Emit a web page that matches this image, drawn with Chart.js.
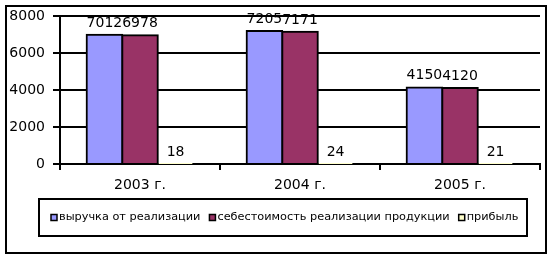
<!DOCTYPE html>
<html><head><meta charset="utf-8">
<script src="https://cdn.jsdelivr.net/npm/chart.js@4"></script>
<style>html,body{margin:0;padding:0;background:#fff}#wrap{width:552px;height:258px;position:relative}canvas{display:block}</style>
</head><body><div id="wrap"><canvas id="c" width="552" height="258"></canvas></div>
<script>
const categories = ['2003 г.', '2004 г.', '2005 г.'];
const revenue = [7012, 7205, 4150];
const cost = [6978, 7171, 4120];
const profit = [18, 24, 21];
const seriesNames = ['выручка от реализации', 'себестоимость реализации продукции', 'прибыль'];
const seriesColors = ['#9999FF', '#993366', '#FFFFCC'];
const yMin = 0, yMax = 8000, yStep = 2000;

const FONT = 'DejaVu Sans';

const labelsPlugin = {
  id: 'barLabels',
  afterDatasetsDraw(chart) {
    const ctx = chart.ctx;
    ctx.save();
    ctx.font = '14px "' + FONT + '"';
    ctx.fillStyle = '#000';
    ctx.textAlign = 'center';
    ctx.textBaseline = 'alphabetic';
    chart.data.datasets.forEach((ds, i) => {
      const meta = chart.getDatasetMeta(i);
      meta.data.forEach((bar, j) => {
        ctx.fillText(String(ds.data[j]), bar.x, bar.y - 8);
      });
    });
    ctx.restore();
  }
};

const framePlugin = {
  id: 'frameLegend',
  afterDraw(chart) {
    const ctx = chart.ctx;
    ctx.save();
    ctx.strokeStyle = '#000';
    ctx.lineWidth = 2;
    ctx.strokeRect(6, 6, 540, 247);
    // legend box
    const bx = 39, by = 199, bw = 488, bh = 37;
    ctx.strokeRect(bx, by, bw, bh);
    ctx.font = '11.3px "' + FONT + '"';
    ctx.textBaseline = 'middle';
    ctx.textAlign = 'left';
    const box = 6, gapText = 2, gapItem = 9;
    const widths = chart.data.datasets.map(ds => ctx.measureText(ds.label).width);
    let total = 0;
    widths.forEach((w, i) => { total += box + gapText + w + (i < widths.length - 1 ? gapItem : 0); });
    let x = Math.round(bx + (bw - total) / 2) + 2;
    const cy = by + bh / 2;
    chart.data.datasets.forEach((ds, i) => {
      ctx.fillStyle = ds.backgroundColor;
      ctx.fillRect(x, cy - box / 2, box, box);
      ctx.lineWidth = 1.5;
      ctx.strokeRect(x, cy - box / 2, box, box);
      ctx.fillStyle = '#000';
      ctx.fillText(ds.label, x + box + gapText, cy);
      x += box + gapText + widths[i] + gapItem;
    });
    ctx.restore();
  }
};

const mk = (i, data) => ({
  label: seriesNames[i],
  data: data,
  backgroundColor: seriesColors[i],
  borderColor: '#000',
  borderWidth: 2,
  borderSkipped: 'start',
  inflateAmount: 1,
  categoryPercentage: 0.667,
  barPercentage: 1.0
});

new Chart(document.getElementById('c'), {
  type: 'bar',
  data: {
    labels: categories,
    datasets: [mk(0, revenue), mk(1, cost), mk(2, profit)]
  },
  options: {
    responsive: false,
    animation: false,
    devicePixelRatio: 1,
    layout: { padding: { left: 0, top: 16, right: 12, bottom: 64 } },
    plugins: { legend: { display: false }, tooltip: { enabled: false } },
    scales: {
      x: {
        offset: true,
        grid: { offset: true, drawOnChartArea: false, color: '#000', lineWidth: 2, tickLength: 6 },
        border: { color: '#000', width: 2 },
        ticks: { color: '#000', font: { family: FONT, size: 14 }, padding: 7 },
        afterFit(s) { s.height = 30; }
      },
      y: {
        min: yMin, max: yMax,
        ticks: { stepSize: yStep, color: '#000', font: { family: FONT, size: 14 }, padding: 8,
                 callback: v => String(v) },
        grid: { color: '#000', lineWidth: 2, tickLength: 7 },
        border: { color: '#000', width: 2 },
        afterFit(s) { s.width = 60; }
      }
    }
  },
  plugins: [labelsPlugin, framePlugin]
});
</script>
</body></html>
